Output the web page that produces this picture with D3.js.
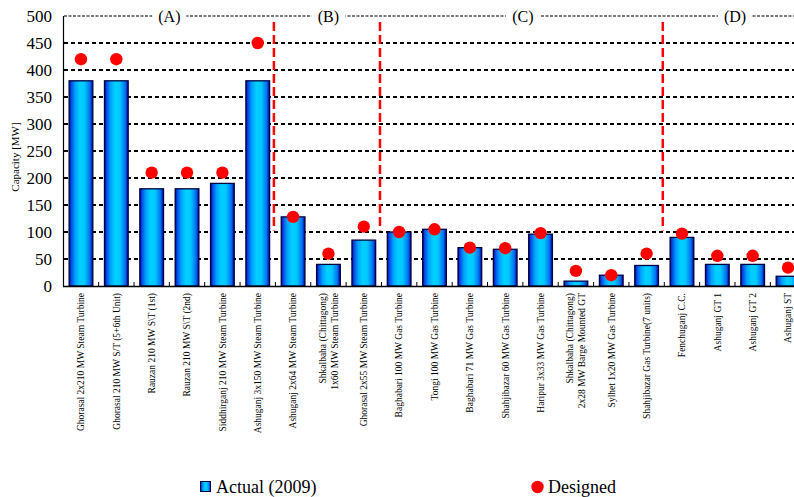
<!DOCTYPE html>
<html>
<head>
<meta charset="utf-8">
<script src="https://cdn.jsdelivr.net/npm/d3@7"></script>
<style>
  html, body { margin: 0; padding: 0; background: #fff; }
  svg { display: block; }
  svg text { font-family: "Liberation Serif", "Times New Roman", Times, "DejaVu Serif", serif; }
</style>
</head>
<body>
<svg id="chart" width="794" height="497"></svg>
<script>
// Power plant capacity: actual (2009) vs designed, in MW
const plants = [
  "Ghorasal 2x210 MW Steam Turbine",
  "Ghorasal 210 MW S/T (5+6th Unit)",
  "Rauzan 210 MW S\\T (1st)",
  "Rauzan 210 MW S\\T (2nd)",
  "Siddhirganj 210 MW Steam Turbine",
  "Ashuganj 3x150 MW Steam Turbine",
  "Ashuganj 2x64 MW Steam Turbine",
  "Shkalbaha (Chittagong)|1x60 MW Steam Turbine",
  "Ghorasal 2x55 MW Steam Turbine",
  "Baghabari 100 MW Gas Turbine",
  "Tongi 100 MW Gas Turbine",
  "Baghabari 71 MW Gas Turbine",
  "Shahjibazar 60 MW Gas Turbine",
  "Haripur 3x33 MW Gas Turbine",
  "Shkalbaha (Chittagong)|2x28 MW Barge Mounted GT",
  "Sylhet 1x20 MW Gas Turbine",
  "Shahjibazar Gas Turbine(7 units)",
  "Fenchuganj C.C.",
  "Ashuganj GT 1",
  "Ashuganj GT 2",
  "Ashuganj ST"
];
const actual2009 = [380, 380, 180, 180, 190, 380, 128, 40, 85, 100, 105, 71, 68, 96, 9, 20, 38, 90, 40, 40, 18];
const designed   = [420, 420, 210, 210, 210, 450, 128, 60, 110, 100, 105, 71, 70, 98, 28, 20, 60, 97, 56, 56, 34];
const yTicks = [0, 50, 100, 150, 200, 250, 300, 350, 400, 450, 500];
// plant groups: label, first index, index after last
const groupLabels = ["(A)", "(B)", "(C)", "(D)"];
const groupStart  = [0, 6, 9, 17];
const groupEnd    = [6, 9, 17, 21];
const dividerRange = [103, 489]; // vertical extent of the group dividers, MW

const FONT = "Liberation Serif, Times New Roman, Times, DejaVu Serif, serif";
const svg = d3.select("#chart").attr("font-family", FONT);

const x = d3.scaleBand()
  .domain(plants)
  .range([63.3, 805.7])
  .paddingInner(0.33)
  .paddingOuter(0.165);
const y = d3.scaleLinear().domain([0, 500]).range([286, 16]);
const step = x.step();
const x0 = x.range()[0];
const boundary = i => x0 + i * step;

// bar gradient
const defs = svg.append("defs");
const grad = defs.append("linearGradient").attr("id", "barGrad")
  .attr("x1", "0%").attr("x2", "100%").attr("y1", "0%").attr("y2", "0%");
[[0, "#00008a"], [0.07, "#0040e0"], [0.25, "#00a0ff"], [0.45, "#00d0ff"], [0.65, "#00c8ff"],
 [0.88, "#0070f0"], [1, "#0000a0"]]
  .forEach(([o, c]) => grad.append("stop").attr("offset", o).attr("stop-color", c));

// horizontal grid
svg.append("g").selectAll("line")
  .data(yTicks.filter(v => v > 0 && v < 500))
  .join("line")
  .attr("x1", 64).attr("x2", 794)
  .attr("y1", d => y(d)).attr("y2", d => y(d))
  .attr("stroke", "#000").attr("stroke-width", 2)
  .attr("stroke-dasharray", "4,3");

// top line carrying the group labels
svg.append("line")
  .attr("x1", 64).attr("x2", 794)
  .attr("y1", y(500)).attr("y2", y(500))
  .attr("stroke", "#7a7a7a").attr("stroke-width", 2)
  .attr("stroke-dasharray", "3,1.5");

const gl = svg.append("g").selectAll("g")
  .data(groupLabels)
  .join("g")
  .attr("transform", (d, i) => `translate(${(boundary(groupStart[i]) + boundary(groupEnd[i])) / 2},${y(500)})`);
gl.append("rect")
  .attr("x", -17).attr("y", -9).attr("width", 34).attr("height", 18)
  .attr("fill", "#fff");
gl.append("text")
  .attr("text-anchor", "middle")
  .attr("dy", "0.35em")
  .attr("font-size", 16)
  .text(d => d);

// bars
svg.append("g").selectAll("rect")
  .data(plants)
  .join("rect")
  .attr("x", d => x(d))
  .attr("width", x.bandwidth())
  .attr("y", (d, i) => y(actual2009[i]))
  .attr("height", (d, i) => y(0) - y(actual2009[i]))
  .attr("fill", "url(#barGrad)")
  .attr("stroke", "#000040").attr("stroke-width", 1.3);

// group dividers
svg.append("g").selectAll("line")
  .data(groupStart.slice(1))
  .join("line")
  .attr("x1", d => boundary(d) - 1.5).attr("x2", d => boundary(d) - 1.5)
  .attr("y1", y(dividerRange[1])).attr("y2", y(dividerRange[0]))
  .attr("stroke", "#ff0000").attr("stroke-width", 2.5)
  .attr("stroke-dasharray", "9,4");

// designed capacity markers
svg.append("g").selectAll("circle")
  .data(plants)
  .join("circle")
  .attr("cx", d => x(d) + x.bandwidth() / 2)
  .attr("cy", (d, i) => y(designed[i]))
  .attr("r", 6.2)
  .attr("fill", "#ff0000");

// axes
svg.append("line")
  .attr("x1", 63.5).attr("x2", 63.5).attr("y1", y(500)).attr("y2", y(0))
  .attr("stroke", "#000").attr("stroke-width", 1.2);
svg.append("line")
  .attr("x1", 63).attr("x2", 794).attr("y1", y(0) + 0.5).attr("y2", y(0) + 0.5)
  .attr("stroke", "#000").attr("stroke-width", 1.5);

// category separators on the x axis
svg.append("g").selectAll("line")
  .data(d3.range(1, plants.length + 1))
  .join("line")
  .attr("x1", d => boundary(d)).attr("x2", d => boundary(d))
  .attr("y1", y(0)).attr("y2", y(0) - 4)
  .attr("stroke", "#000").attr("stroke-width", 1);

// y tick labels
svg.append("g").selectAll("text")
  .data(yTicks)
  .join("text")
  .attr("x", 52).attr("y", d => y(d))
  .attr("dy", "0.35em")
  .attr("text-anchor", "end")
  .attr("font-size", 17)
  .text(d => d);

// y axis title
svg.append("text")
  .attr("transform", `translate(19,${(y(500) + y(0)) / 2 + 6}) rotate(-90)`)
  .attr("text-anchor", "middle")
  .attr("font-size", 11)
  .text("Capacity [MW]");

// x category labels, rotated
const xl = svg.append("g").selectAll("text")
  .data(plants)
  .join("text")
  .attr("transform", d => `translate(${x(d) + x.bandwidth() / 2},293) rotate(-90)`)
  .attr("text-anchor", "end")
  .attr("font-size", 9.5);
xl.each(function(d) {
  const lines = d.split("|");
  const t = d3.select(this);
  lines.forEach((ln, k) => {
    t.append("tspan")
      .attr("x", 0)
      .attr("y", (k - (lines.length - 1) / 2) * 12)
      .attr("dy", "0.35em")
      .text(ln);
  });
});

// legend
svg.append("rect")
  .attr("x", 200.5).attr("y", 481.5).attr("width", 10).attr("height", 10)
  .attr("fill", "url(#barGrad)").attr("stroke", "#000040").attr("stroke-width", 1);
svg.append("text")
  .attr("x", 216).attr("y", 492.5)
  .attr("font-size", 18)
  .text("Actual (2009)");
svg.append("circle")
  .attr("cx", 537.5).attr("cy", 487).attr("r", 6.2)
  .attr("fill", "#ff0000");
svg.append("text")
  .attr("x", 548).attr("y", 492.5)
  .attr("font-size", 18)
  .text("Designed");
</script>
</body>
</html>
